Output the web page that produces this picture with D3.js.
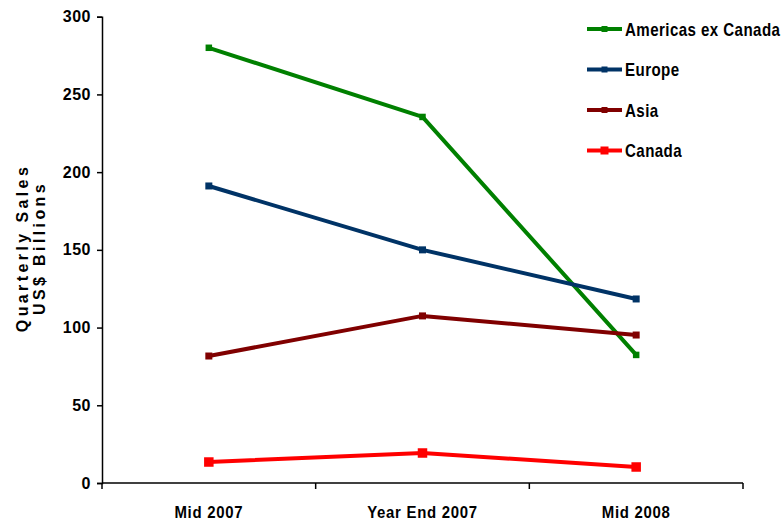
<!DOCTYPE html>
<html>
<head>
<meta charset="utf-8">
<script src="https://cdn.jsdelivr.net/npm/d3@7"></script>
<style>
  html, body { margin: 0; padding: 0; background: #fff; }
  svg { display: block; }
  text { font-family: "Liberation Sans", Arial, sans-serif; font-weight: bold; fill: #000; }
</style>
</head>
<body>
<svg id="chart" width="784" height="525"></svg>
<script>
// Quarterly sales by region, US$ billions
const periods = ["Mid 2007", "Year End 2007", "Mid 2008"];
const americasExCanada = [280, 235.5, 82.4];
const europe = [191.1, 150, 118.4];
const asia = [81.7, 107.5, 95.2];
const canada = [13.5, 19.3, 10.3];
const seriesNames = ["Americas ex Canada", "Europe", "Asia", "Canada"];
const yTicks = [0, 50, 100, 150, 200, 250, 300];

const seriesValues = [americasExCanada, europe, asia, canada];
const colors = ["#008000", "#003366", "#800000", "#ff0000"];
const markerSizes = [6.5, 7, 7, 9.5];

const svg = d3.select("#chart");
const plotLeft = 102, plotRight = 743, plotTop = 16.7, plotBottom = 483;

const x = d3.scaleBand().domain(periods).range([plotLeft, plotRight]).padding(0);
const y = d3.scaleLinear().domain([0, 300]).range([plotBottom, plotTop]);

// Y axis
const yAxis = svg.append("g")
  .attr("transform", `translate(${plotLeft},0)`)
  .call(d3.axisLeft(y).tickValues(yTicks).tickSize(5).tickPadding(6));
yAxis.select(".domain").attr("stroke", "#000").attr("stroke-width", 1.5);
yAxis.selectAll(".tick line").attr("stroke", "#000").attr("stroke-width", 1.5);
yAxis.selectAll(".tick text")
  .style("font-size", "16px")
  .style("letter-spacing", "0.5px")
  .attr("fill", "#000");

// X axis: labels centred on categories (condensed), tick marks on category boundaries
const xAxis = svg.append("g")
  .attr("transform", `translate(0,${y(0)})`)
  .call(d3.axisBottom(x).tickSize(0).tickPadding(23));
xAxis.select(".domain").remove();
xAxis.selectAll(".tick text")
  .style("font-size", "17px")
  .style("letter-spacing", "0.8px")
  .attr("transform", "scale(0.88,1)")
  .attr("fill", "#000");

const bounds = [plotLeft].concat(periods.map(p => x(p) + x.bandwidth()));
svg.append("line")
  .attr("x1", plotLeft).attr("x2", plotRight)
  .attr("y1", y(0)).attr("y2", y(0))
  .attr("stroke", "#000").attr("stroke-width", 1.5);
svg.selectAll(".xtick").data(bounds).enter().append("line")
  .attr("class", "xtick")
  .attr("x1", d => d).attr("x2", d => d)
  .attr("y1", y(0)).attr("y2", y(0) + 6)
  .attr("stroke", "#000").attr("stroke-width", 1.5);

// Y axis title, two rotated, letter-spaced lines
const title = svg.append("text")
  .attr("transform", "translate(28,248) rotate(-90)")
  .attr("text-anchor", "middle")
  .style("font-size", "16px")
  .style("letter-spacing", "3.4px");
title.append("tspan").attr("x", 0).attr("dy", 0).text("Quarterly Sales");
title.append("tspan").attr("x", 0).attr("dy", 17).text("US$ Billions");

// Series lines and square markers
const line = d3.line()
  .x((d, i) => x(periods[i]) + x.bandwidth() / 2)
  .y(d => y(d));

seriesValues.forEach((vals, s) => {
  svg.append("path")
    .datum(vals)
    .attr("d", line)
    .attr("fill", "none")
    .attr("stroke", colors[s])
    .attr("stroke-width", 4)
    .attr("stroke-linejoin", "round");
  const m = markerSizes[s];
  svg.selectAll(".m" + s).data(vals).enter().append("rect")
    .attr("class", "m" + s)
    .attr("x", (d, i) => x(periods[i]) + x.bandwidth() / 2 - m / 2)
    .attr("y", d => y(d) - m / 2)
    .attr("width", m).attr("height", m)
    .attr("fill", colors[s]);
});

// Legend
const legend = svg.append("g");
seriesNames.forEach((name, s) => {
  const ly = 29 + s * 40.5;
  legend.append("line")
    .attr("x1", 587).attr("x2", 622)
    .attr("y1", ly).attr("y2", ly)
    .attr("stroke", colors[s]).attr("stroke-width", 4);
  const m = s === 3 ? 8 : 6;
  legend.append("rect")
    .attr("x", 604.5 - m / 2).attr("y", ly - m / 2)
    .attr("width", m).attr("height", m)
    .attr("fill", colors[s]);
  legend.append("text")
    .attr("transform", `translate(625,${ly + 6.5}) scale(0.863,1)`)
    .style("font-size", "17.5px")
    .style("letter-spacing", "0.5px")
    .text(name);
});
</script>
</body>
</html>
